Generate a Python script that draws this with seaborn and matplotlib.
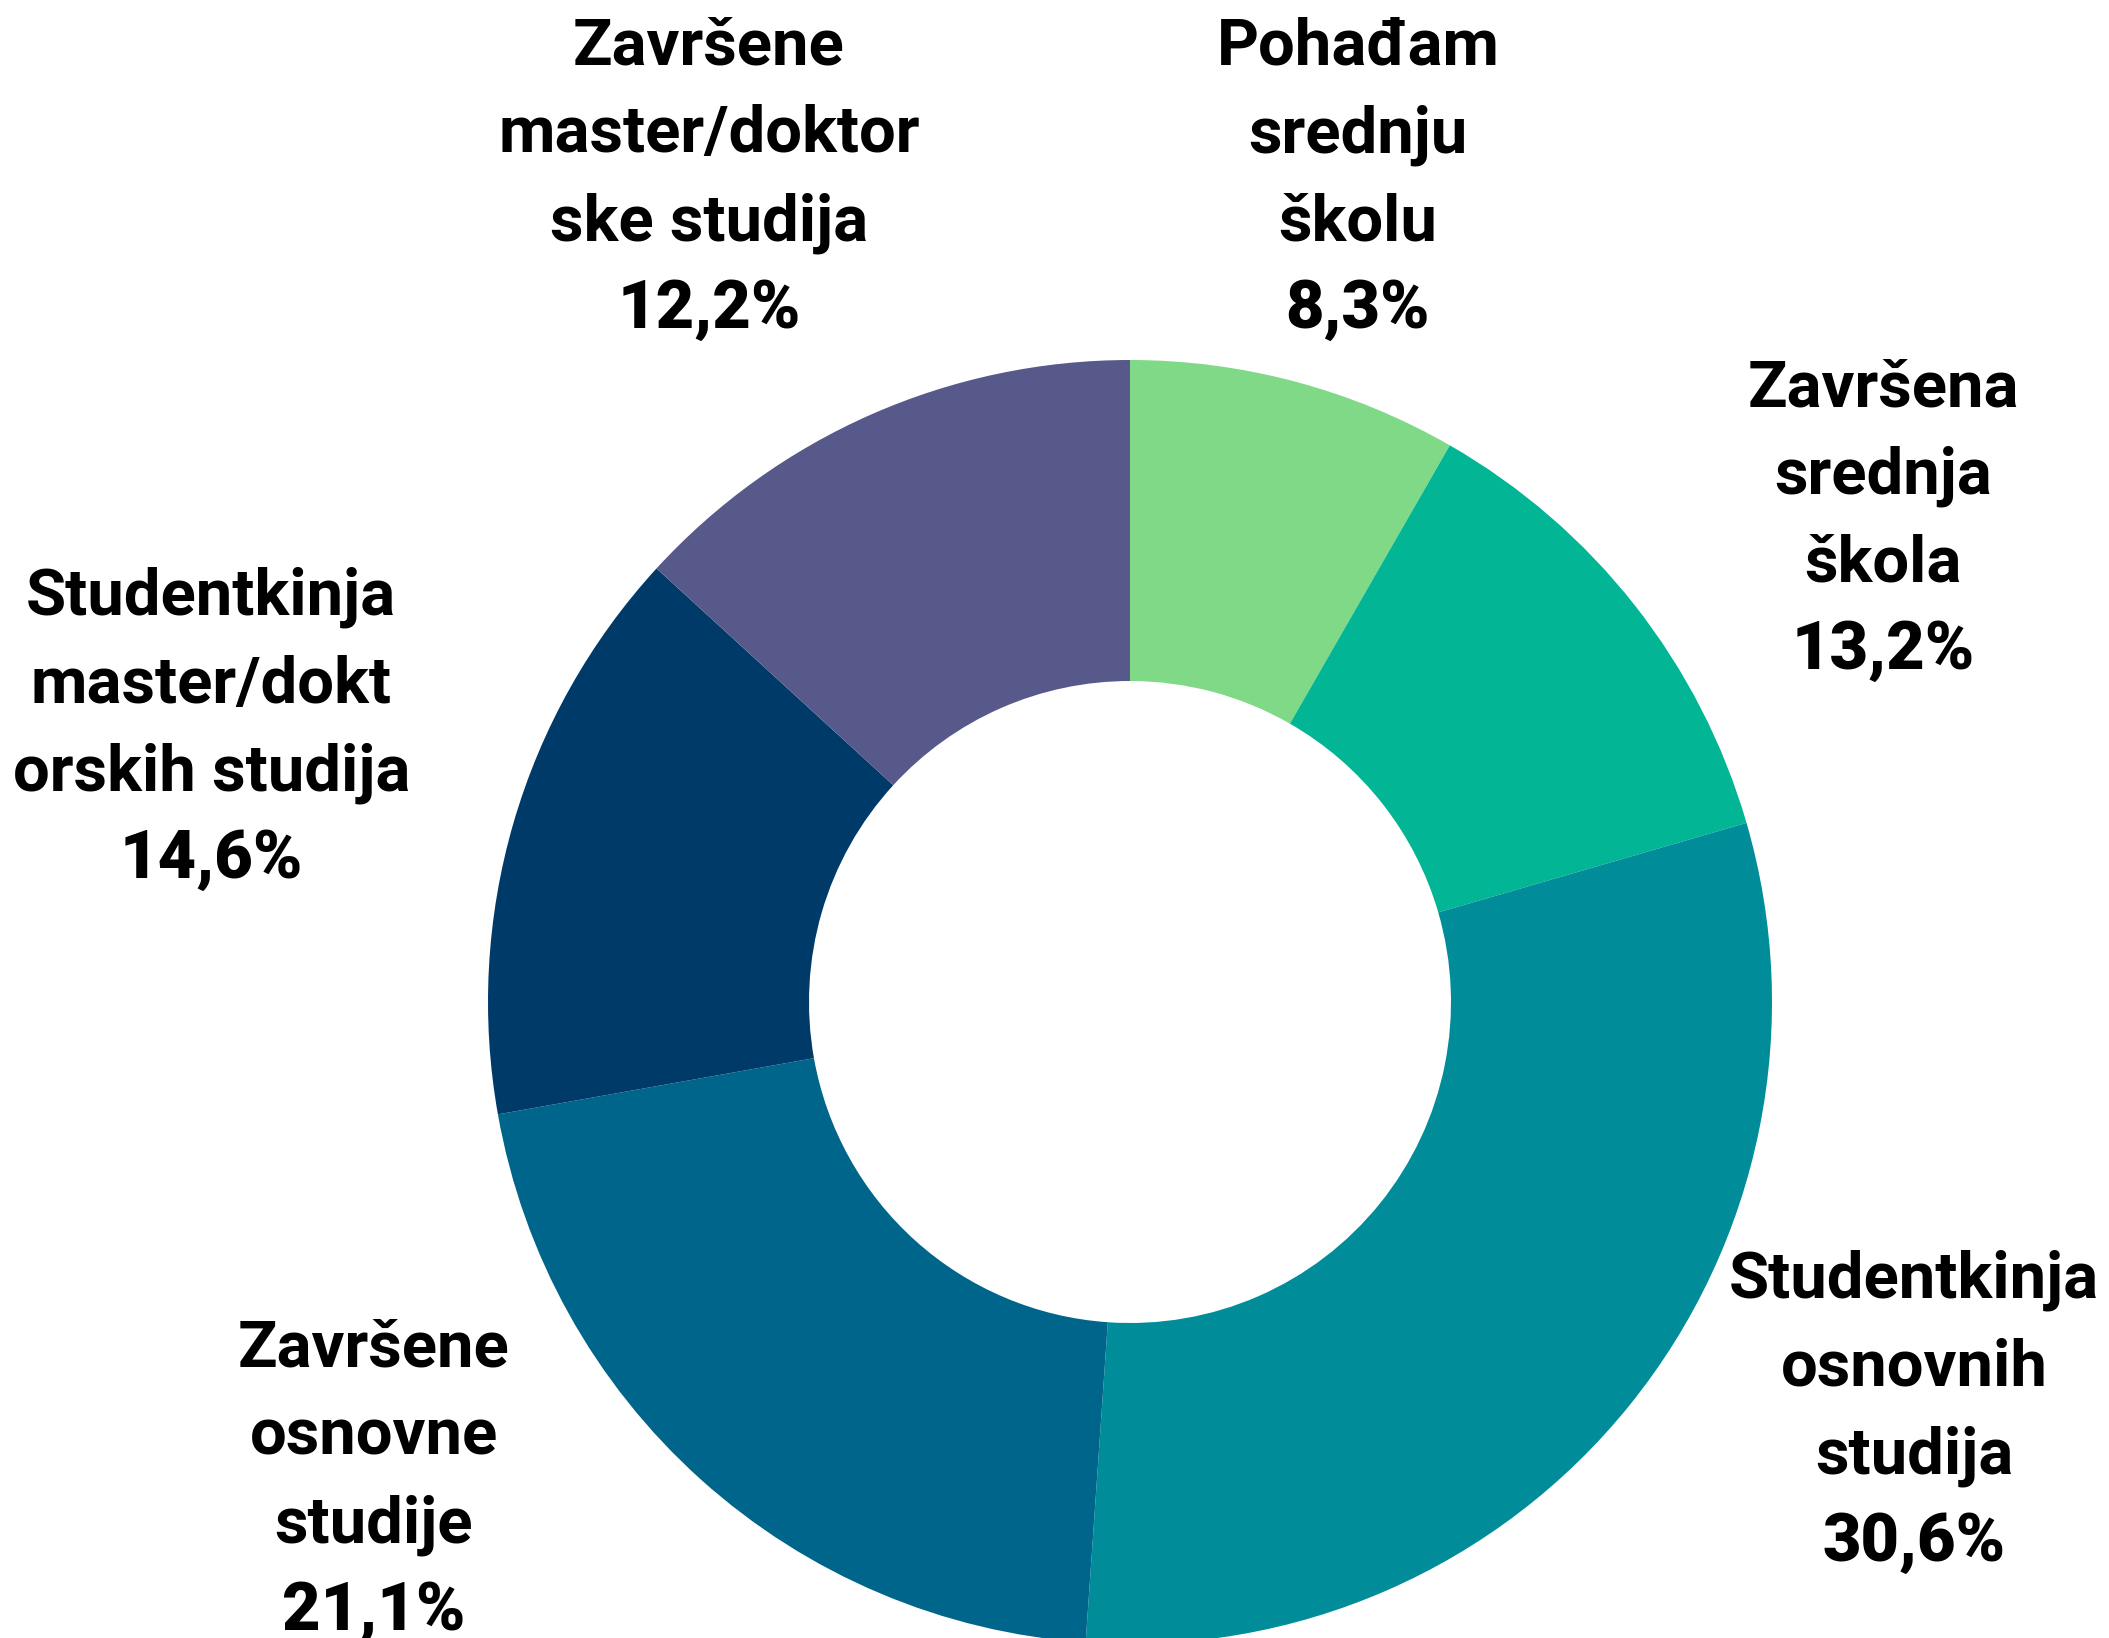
import matplotlib
matplotlib.use("Agg")
import matplotlib.pyplot as plt
import seaborn as sns

categories = [
    "Pohađam\nsrednju\nškolu",
    "Završena\nsrednja\nškola",
    "Studentkinja\nosnovnih\nstudija",
    "Završene\nosnovne\nstudije",
    "Studentkinja\nmaster/dokt\norskih studija",
    "Završene\nmaster/doktor\nske studija",
]
# wedge sizes as drawn in the picture (sweep angles)
values = [8.3, 12.2, 30.6, 21.1, 14.6, 13.2]
# percentage texts as printed in the picture
pct_labels = ["8,3%", "13,2%", "30,6%", "21,1%", "14,6%", "12,2%"]
colors = ["#7fd986", "#02b595", "#008d99", "#00658b", "#003a69", "#58598b"]

# label anchor (baseline of first line), in units of outer radius
label_x = [0.355, 1.173, 1.221, -1.178, -1.431, -0.656]
label_y = [1.460, 0.928, -0.461, -0.568, 0.603, 1.460]

sns.set_theme(style="white")
plt.rcParams['font.family'] = ['Roboto', 'DejaVu Sans']

W, H = 2109, 1638
fig = plt.figure(figsize=(W / 100, H / 100), dpi=100)
ax = fig.add_axes([0, 0, 1, 1])
R_px = 642.0
cx, cy = 1130.0, 1002.0

ax.pie(values, colors=colors, startangle=90, counterclock=False, radius=1.0,
       wedgeprops=dict(width=0.5, edgecolor="none", linewidth=0))

ax.set_xlim(-cx / R_px, (W - cx) / R_px)
ax.set_ylim(-(H - cy) / R_px, cy / R_px)
ax.set_aspect("equal")
ax.axis("off")

line_step_pt = 87.7 * 72 / 100
for name, pct, x, y in zip(categories, pct_labels, label_x, label_y):
    lines = name.split("\n")
    for i, ln in enumerate(lines):
        ax.annotate(ln, xy=(x, y), xytext=(0, -i * line_step_pt), textcoords="offset points",
                    ha="center", va="baseline", fontsize=47, fontweight="bold", color="black",
                    annotation_clip=False)
    ax.annotate(pct, xy=(x, y), xytext=(0, -len(lines) * line_step_pt), textcoords="offset points",
                ha="center", va="baseline", fontsize=48, fontweight="heavy", color="black",
                annotation_clip=False)

fig.savefig("out.png", dpi=100, facecolor="white")
